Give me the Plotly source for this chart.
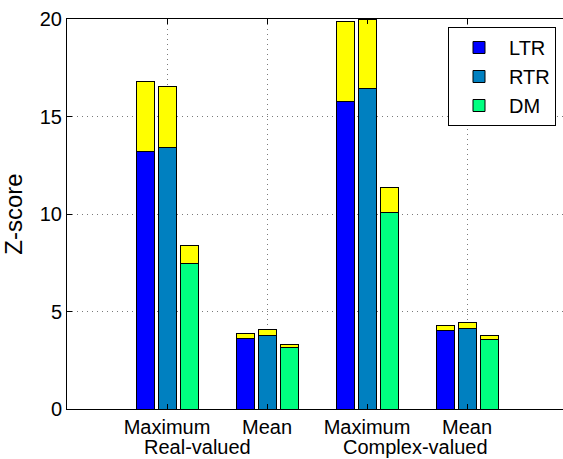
import plotly.graph_objects as go

groups = ["Maximum", "Mean", "Maximum", "Mean"]
series = ["LTR", "RTR", "DM"]
colors = ["#0000FF", "#0080C0", "#00FF80"]
top_color = "#FFFF00"

# lower (coloured) part of each stacked bar, per series, per group
ltr_base = [13.2, 3.62, 15.75, 4.02]
rtr_base = [13.4, 3.75, 16.43, 4.14]
dm_base = [7.48, 3.14, 10.1, 3.59]
# totals (top of yellow part)
ltr_total = [16.77, 3.89, 19.87, 4.28]
rtr_total = [16.52, 4.09, 19.97, 4.42]
dm_total = [8.38, 3.30, 11.38, 3.79]

super_labels = ["Real-valued", "Complex-valued"]

bases = [ltr_base, rtr_base, dm_base]
totals = [ltr_total, rtr_total, dm_total]
offsets = [-0.22, 0.0, 0.22]
bar_w = 0.18
xpos = list(range(1, len(groups) + 1))

fig = go.Figure()
for i, name in enumerate(series):
    xs = [p + offsets[i] for p in xpos]
    fig.add_trace(go.Bar(
        x=xs, y=bases[i], width=bar_w, name=name,
        marker=dict(color=colors[i], line=dict(color="black", width=1)),
    ))
for i, name in enumerate(series):
    xs = [p + offsets[i] for p in xpos]
    fig.add_trace(go.Bar(
        x=xs, y=[t - b for t, b in zip(totals[i], bases[i])], width=bar_w,
        showlegend=False, name=name + " top",
        marker=dict(color=top_color, line=dict(color="black", width=1)),
    ))

font = "Liberation Sans, Arial, Helvetica, sans-serif"
grid = dict(showgrid=True, gridcolor="#7a7a7a", griddash="1px,4px", gridwidth=1)
fig.update_layout(
    width=563, height=459,
    margin=dict(l=67, r=0, t=19, b=50),
    barmode="stack",
    plot_bgcolor="white", paper_bgcolor="white",
    font=dict(family=font, size=20, color="black"),
    showlegend=True,
    legend=dict(
        x=(556 - 67) / 496, xanchor="right",
        y=1 - (27 - 19) / 390, yanchor="top",
        bordercolor="black", borderwidth=1, bgcolor="white",
        font=dict(size=20), itemwidth=50, tracegroupgap=0,
        traceorder="normal",
    ),
    xaxis=dict(
        range=[0, 4.96], tickmode="array", tickvals=xpos, ticktext=groups,
        showline=True, linecolor="black", linewidth=1, mirror="ticks",
        ticks="inside", ticklen=5, tickcolor="black",
        zeroline=False, **grid,
    ),
    yaxis=dict(
        range=[0, 20], tickvals=[0, 5, 10, 15, 20],
        showline=True, linecolor="black", linewidth=1, mirror=False,
        ticks="inside", ticklen=5, tickcolor="black",
        zeroline=False, **grid,
        title=dict(text="Z-score", standoff=10),
    ),
)

for lbl, xc in zip(super_labels, [1.30, 3.48]):
    fig.add_annotation(
        x=xc, y=-0.097, xref="x", yref="paper", text=lbl, showarrow=False,
        yanchor="middle", font=dict(size=20),
    )

fig.write_html("out.html", config={"displayModeBar": False},
               post_script="document.body.style.margin='0';")
